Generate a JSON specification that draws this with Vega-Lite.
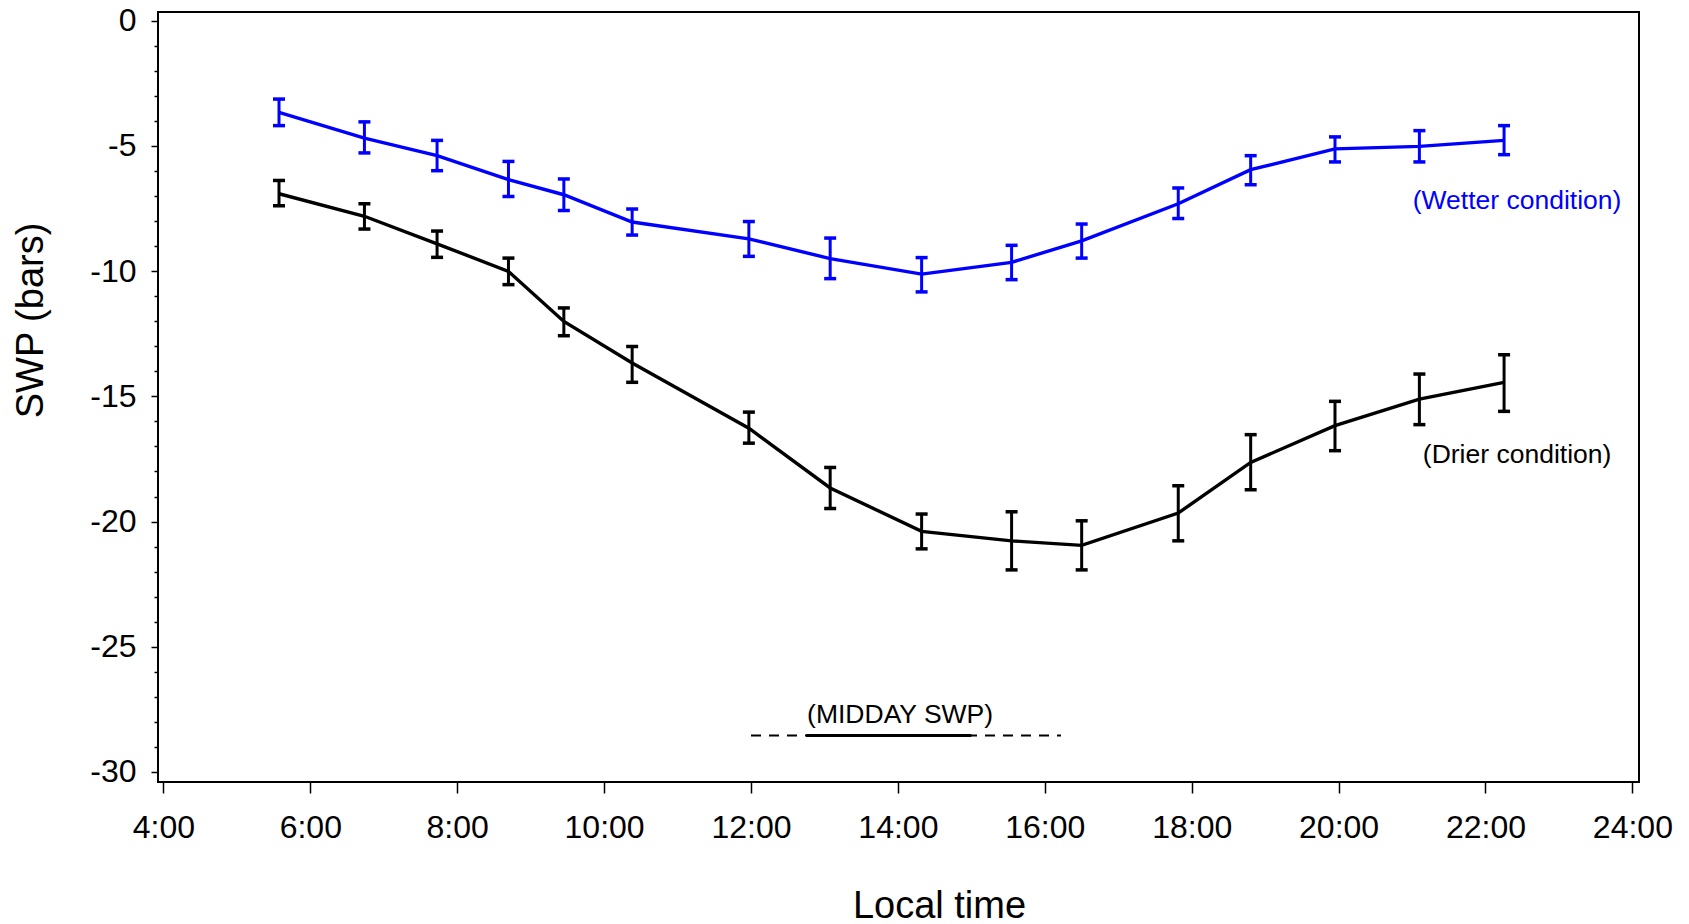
{
  "$schema": "https://vega.github.io/schema/vega-lite/v6.json",
  "width": 1481,
  "height": 770,
  "autosize": "none",
  "padding": {"left": 158, "top": 12, "right": 50, "bottom": 142},
  "background": "white",
  "config": {
    "font": "Liberation Sans",
    "view": {"stroke": "black", "strokeWidth": 2},
    "axis": {"labelOverlap": false, "labelFlush": false, "grid": false, "domain": false}
  },
  "resolve": {"axis": {"y": "independent"}},
  "datasets": {
    "swp": [
      {"series": "Wetter", "hour": 5.574, "swp": -3.66, "lo": -4.19, "hi": -3.13},
      {"series": "Wetter", "hour": 6.737, "swp": -4.69, "lo": -5.28, "hi": -4.04},
      {"series": "Wetter", "hour": 7.726, "swp": -5.39, "lo": -5.99, "hi": -4.78},
      {"series": "Wetter", "hour": 8.698, "swp": -6.35, "lo": -7.02, "hi": -5.62},
      {"series": "Wetter", "hour": 9.452, "swp": -6.95, "lo": -7.58, "hi": -6.32},
      {"series": "Wetter", "hour": 10.382, "swp": -8.04, "lo": -8.56, "hi": -7.52},
      {"series": "Wetter", "hour": 11.971, "swp": -8.71, "lo": -9.41, "hi": -8.02},
      {"series": "Wetter", "hour": 13.078, "swp": -9.5, "lo": -10.3, "hi": -8.68},
      {"series": "Wetter", "hour": 14.323, "swp": -10.12, "lo": -10.83, "hi": -9.46},
      {"series": "Wetter", "hour": 15.548, "swp": -9.65, "lo": -10.34, "hi": -8.97},
      {"series": "Wetter", "hour": 16.502, "swp": -8.79, "lo": -9.48, "hi": -8.12},
      {"series": "Wetter", "hour": 17.817, "swp": -7.31, "lo": -7.9, "hi": -6.68},
      {"series": "Wetter", "hour": 18.803, "swp": -5.95, "lo": -6.55, "hi": -5.39},
      {"series": "Wetter", "hour": 19.951, "swp": -5.12, "lo": -5.64, "hi": -4.64},
      {"series": "Wetter", "hour": 21.1, "swp": -5.02, "lo": -5.64, "hi": -4.39},
      {"series": "Wetter", "hour": 22.253, "swp": -4.78, "lo": -5.35, "hi": -4.19},
      {"series": "Drier", "hour": 5.574, "swp": -6.91, "lo": -7.39, "hi": -6.38},
      {"series": "Drier", "hour": 6.737, "swp": -7.81, "lo": -8.32, "hi": -7.31},
      {"series": "Drier", "hour": 7.726, "swp": -8.91, "lo": -9.45, "hi": -8.4},
      {"series": "Drier", "hour": 8.698, "swp": -10.01, "lo": -10.54, "hi": -9.48},
      {"series": "Drier", "hour": 9.452, "swp": -12.01, "lo": -12.58, "hi": -11.47},
      {"series": "Drier", "hour": 10.382, "swp": -13.67, "lo": -14.44, "hi": -13.01},
      {"series": "Drier", "hour": 11.971, "swp": -16.27, "lo": -16.87, "hi": -15.63},
      {"series": "Drier", "hour": 13.078, "swp": -18.66, "lo": -19.48, "hi": -17.84},
      {"series": "Drier", "hour": 14.323, "swp": -20.39, "lo": -21.09, "hi": -19.7},
      {"series": "Drier", "hour": 15.548, "swp": -20.77, "lo": -21.93, "hi": -19.61},
      {"series": "Drier", "hour": 16.502, "swp": -20.95, "lo": -21.93, "hi": -19.97},
      {"series": "Drier", "hour": 17.817, "swp": -19.66, "lo": -20.77, "hi": -18.57},
      {"series": "Drier", "hour": 18.803, "swp": -17.64, "lo": -18.73, "hi": -16.53},
      {"series": "Drier", "hour": 19.951, "swp": -16.17, "lo": -17.17, "hi": -15.2},
      {"series": "Drier", "hour": 21.1, "swp": -15.11, "lo": -16.13, "hi": -14.11},
      {"series": "Drier", "hour": 22.253, "swp": -14.44, "lo": -15.6, "hi": -13.34}
    ],
    "labels": [
      {"series": "Wetter", "hour": 22.43, "swp": -7.52, "label": "(Wetter condition)"},
      {"series": "Drier", "hour": 22.43, "swp": -17.66, "label": "(Drier condition)"},
      {"series": "Midday", "hour": 14.03, "swp": -28.05, "label": "(MIDDAY SWP)"}
    ],
    "midday": [
      {"part": "window", "start": 12.0, "end": 16.22, "swp": -28.54},
      {"part": "core", "start": 12.75, "end": 15.0, "swp": -28.54}
    ]
  },
  "layer": [
    {
      "data": {"name": "swp"},
      "mark": {"type": "line", "strokeWidth": 3.4},
      "encoding": {
        "x": {
          "field": "hour", "type": "quantitative", "title": "Local time",
          "scale": {"domain": [3.9265, 24.09], "nice": false, "zero": false},
          "axis": {
            "title": "Local time",
            "values": [4, 6, 8, 10, 12, 14, 16, 18, 20, 22, 24],
            "labelExpr": "datum.value + ':00'",
            "tickSize": 11, "tickColor": "black", "tickWidth": 1.5,
            "labelFontSize": 32, "labelColor": "black",
            "labelBaseline": "alphabetic", "labelPadding": 44,
            "titleFontSize": 38, "titleFontWeight": "normal", "titleColor": "black",
            "titleX": 781, "titleY": 135, "titleBaseline": "alphabetic"
          }
        },
        "y": {
          "field": "swp", "type": "quantitative", "title": "SWP (bars)",
          "scale": {"domain": [-30.4, 0.347], "nice": false, "zero": false},
          "axis": {
            "orient": "left",
            "title": "SWP (bars)",
            "values": [-30, -25, -20, -15, -10, -5, 0],
            "labelExpr": "'' + datum.value",
            "tickSize": 7, "tickColor": "black", "tickWidth": 1.5,
            "labelFontSize": 32, "labelColor": "black", "labelPadding": 15,
            "titleFontSize": 38, "titleFontWeight": "normal", "titleColor": "black",
            "titleX": -108, "titleY": 308, "titleBaseline": "bottom"
          }
        },
        "color": {
          "field": "series", "type": "nominal",
          "scale": {"domain": ["Wetter", "Drier", "Midday"], "range": ["#0000ff", "#000000", "#000000"]},
          "legend": null
        },
        "detail": {"field": "series"}
      }
    },
    {
      "data": {"name": "swp"},
      "mark": {"type": "rule", "strokeWidth": 3},
      "encoding": {
        "x": {"field": "hour", "type": "quantitative", "title": "Local time"},
        "y": {"field": "lo", "type": "quantitative", "axis": null},
        "y2": {"field": "hi"},
        "color": {"field": "series", "type": "nominal", "legend": null}
      }
    },
    {
      "data": {"name": "swp"},
      "mark": {"type": "tick", "orient": "horizontal", "size": 12, "thickness": 3.5, "opacity": 1},
      "encoding": {
        "x": {"field": "hour", "type": "quantitative", "title": "Local time"},
        "y": {"field": "lo", "type": "quantitative", "axis": null},
        "color": {"field": "series", "type": "nominal", "legend": null}
      }
    },
    {
      "data": {"name": "swp"},
      "mark": {"type": "tick", "orient": "horizontal", "size": 12, "thickness": 3.5, "opacity": 1},
      "encoding": {
        "x": {"field": "hour", "type": "quantitative", "title": "Local time"},
        "y": {
          "field": "hi", "type": "quantitative",
          "axis": {
            "orient": "left",
            "title": null,
            "values": [-29, -28, -27, -26, -24, -23, -22, -21, -19, -18, -17, -16, -14, -13, -12, -11, -9, -8, -7, -6, -4, -3, -2, -1],
            "labels": false,
            "tickSize": 4, "tickColor": "black", "tickWidth": 1.5
          }
        },
        "color": {"field": "series", "type": "nominal", "legend": null}
      }
    },
    {
      "data": {"name": "labels"},
      "mark": {"type": "text", "fontSize": 26.5, "align": "center", "baseline": "alphabetic"},
      "encoding": {
        "x": {"field": "hour", "type": "quantitative", "title": "Local time"},
        "y": {"field": "swp", "type": "quantitative", "axis": null},
        "text": {"field": "label"},
        "color": {"field": "series", "type": "nominal", "legend": null}
      }
    },
    {
      "data": {"name": "midday"},
      "transform": [{"filter": "datum.part === 'window'"}],
      "mark": {"type": "rule", "strokeWidth": 2, "strokeDash": [10, 8], "color": "black"},
      "encoding": {
        "x": {"field": "start", "type": "quantitative", "title": "Local time"},
        "x2": {"field": "end"},
        "y": {"field": "swp", "type": "quantitative", "axis": null}
      }
    },
    {
      "data": {"name": "midday"},
      "transform": [{"filter": "datum.part === 'core'"}],
      "mark": {"type": "rule", "strokeWidth": 3, "color": "black"},
      "encoding": {
        "x": {"field": "start", "type": "quantitative", "title": "Local time"},
        "x2": {"field": "end"},
        "y": {"field": "swp", "type": "quantitative", "axis": null}
      }
    }
  ]
}
